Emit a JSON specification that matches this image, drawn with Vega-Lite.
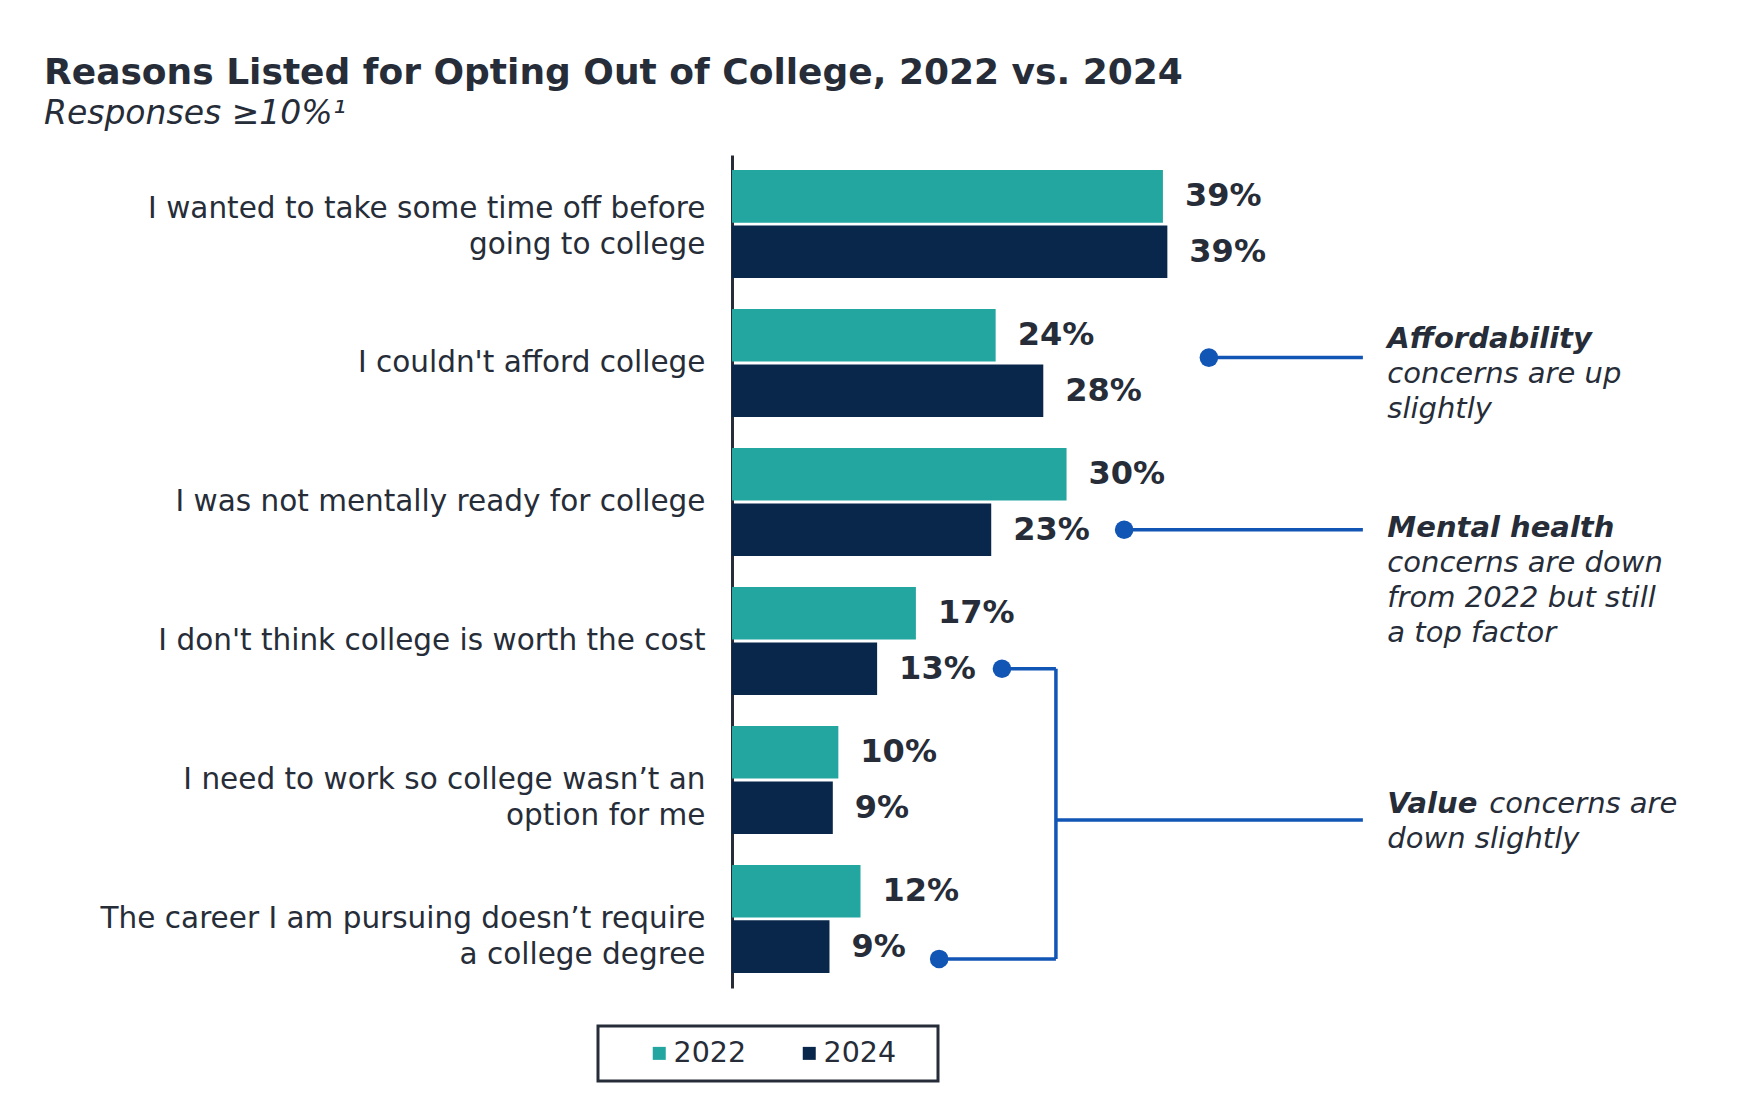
{
  "$schema": "https://vega.github.io/schema/vega-lite/v6.json",
  "width": 997,
  "height": 833,
  "autosize": {"type": "none"},
  "padding": {"left": 732, "top": 155, "right": 9, "bottom": 116},
  "background": "white",
  "title": {
    "text": "Reasons Listed for Opting Out of College, 2022 vs. 2024",
    "subtitle": "Responses ≥10%¹",
    "anchor": "start",
    "frame": "group",
    "dx": -688,
    "offset": 23,
    "subtitlePadding": 6,
    "font": "DejaVu Sans",
    "fontSize": 36,
    "fontWeight": "bold",
    "color": "#262d38",
    "subtitleFont": "DejaVu Sans",
    "subtitleFontSize": 33,
    "subtitleFontStyle": "italic",
    "subtitleColor": "#262d38"
  },
  "datasets": {
    "bars": [
      {"reason": "I wanted to take some time off before|going to college", "year": "2022", "pct": 0.389},
      {"reason": "I wanted to take some time off before|going to college", "year": "2024", "pct": 0.393},
      {"reason": "I couldn't afford college", "year": "2022", "pct": 0.238},
      {"reason": "I couldn't afford college", "year": "2024", "pct": 0.281},
      {"reason": "I was not mentally ready for college", "year": "2022", "pct": 0.302},
      {"reason": "I was not mentally ready for college", "year": "2024", "pct": 0.234},
      {"reason": "I don't think college is worth the cost", "year": "2022", "pct": 0.166},
      {"reason": "I don't think college is worth the cost", "year": "2024", "pct": 0.131},
      {"reason": "I need to work so college wasn’t an|option for me", "year": "2022", "pct": 0.096},
      {"reason": "I need to work so college wasn’t an|option for me", "year": "2024", "pct": 0.091},
      {"reason": "The career I am pursuing doesn’t require|a college degree", "year": "2022", "pct": 0.116},
      {"reason": "The career I am pursuing doesn’t require|a college degree", "year": "2024", "pct": 0.088}
    ],
    "links": [
      {"lvl": "a", "reason": "I couldn't afford college", "x0": 0.4305, "x1": 0.5695, "dot": true},
      {"lvl": "b", "reason": "I was not mentally ready for college", "x0": 0.354, "x1": 0.5695, "dot": true},
      {"lvl": "b", "reason": "I don't think college is worth the cost", "x0": 0.2437, "x1": 0.2924, "dot": true},
      {"lvl": "c", "reason": "The career I am pursuing doesn’t require|a college degree", "x0": 0.187, "x1": 0.2924, "dot": true},
      {"lvl": "c", "reason": "I need to work so college wasn’t an|option for me", "x0": 0.2924, "x1": 0.5695, "dot": false}
    ],
    "bracket": [
      {"x": 0.2924, "from": "I don't think college is worth the cost", "to": "The career I am pursuing doesn’t require|a college degree"}
    ],
    "notes": [
      {"lvl": "a", "reason": "I couldn't afford college", "x": 0.5916, "head": "Affordability", "rest": "concerns are up\nslightly"},
      {"lvl": "b", "reason": "I was not mentally ready for college", "x": 0.5916, "head": "Mental health", "rest": "concerns are down\nfrom 2022 but still\na top factor"},
      {"lvl": "c", "reason": "I need to work so college wasn’t an|option for me", "x": 0.5916, "head": "Value", "tail": "concerns are", "rest": "down slightly"}
    ]
  },
  "layer": [
    {
      "data": {"name": "bars"},
      "mark": {"type": "bar"},
      "encoding": {
        "y": {
          "field": "reason",
          "type": "nominal",
          "scale": {
            "type": "band",
            "domain": [
              "I wanted to take some time off before|going to college",
              "I couldn't afford college",
              "I was not mentally ready for college",
              "I don't think college is worth the cost",
              "I need to work so college wasn’t an|option for me",
              "The career I am pursuing doesn’t require|a college degree"
            ],
            "paddingInner": 0.223,
            "paddingOuter": 0.108
          },
          "axis": {
            "title": null,
            "domain": true,
            "domainColor": "#262d38",
            "domainWidth": 3,
            "ticks": false,
            "grid": false,
            "labelFont": "DejaVu Sans",
            "labelFontSize": 29.5,
            "labelColor": "#262d38",
            "labelPadding": 27,
            "labelLimit": 0,
            "labelLineHeight": 36,
            "labelExpr": "split(datum.label, '|')",
            "labelBaseline": {"condition": {"test": "indexof(datum.value, 'time off') >= 0", "value": "bottom"}, "value": "middle"}
          }
        },
        "yOffset": {"field": "year", "type": "nominal", "scale": {"domain": ["2022", "2024"], "paddingInner": 0.05}},
        "x": {"field": "pct", "type": "quantitative", "scale": {"domain": [0, 0.9], "nice": false, "zero": true}, "axis": null},
        "color": {
          "field": "year",
          "type": "nominal",
          "scale": {"domain": ["2022", "2024"], "range": ["#23a6a0", "#08274a"]},
          "legend": {
            "orient": "none",
            "legendX": -134,
            "legendY": 871,
            "direction": "horizontal",
            "title": "\u200b\u2003\u200b",
            "titleOrient": "left",
            "titleOpacity": 0,
            "titlePadding": 5,
            "titleFontSize": 29,
            "symbolType": "square",
            "symbolSize": 169,
            "symbolStrokeWidth": 0,
            "labelFont": "DejaVu Sans",
            "labelFontSize": 28.5,
            "labelColor": "#262d38",
            "labelOffset": 0,
            "columnPadding": 48,
            "labelExpr": "datum.label == '2024' ? '2024\u2003\u200b' : datum.label",
            "padding": 13,
            "strokeColor": "#262d38"
          }
        }
      }
    },
    {
      "data": {"name": "bars"},
      "mark": {"type": "text", "align": "left", "baseline": "middle", "dx": 22, "fontSize": 32, "fontWeight": "bold", "color": "#262d38"},
      "encoding": {
        "y": {"field": "reason", "type": "nominal"},
        "yOffset": {"field": "year", "type": "nominal"},
        "x": {"field": "pct", "type": "quantitative"},
        "text": {"field": "pct", "type": "quantitative", "format": ".0%"}
      }
    },
    {
      "data": {"name": "links"},
      "transform": [{"filter": "datum.lvl == 'a'"}],
      "encoding": {"y": {"field": "reason", "type": "nominal", "bandPosition": 0.45}},
      "layer": [
        {"mark": {"type": "rule", "color": "#1155b5", "strokeWidth": 3.5}, "encoding": {"x": {"field": "x0", "type": "quantitative"}, "x2": {"field": "x1"}}},
        {"transform": [{"filter": "datum.dot"}], "mark": {"type": "point", "shape": "circle", "filled": true, "opacity": 1, "size": 346, "color": "#1155b5"}, "encoding": {"x": {"field": "x0", "type": "quantitative"}}}
      ]
    },
    {
      "data": {"name": "links"},
      "transform": [{"filter": "datum.lvl == 'b'"}],
      "encoding": {"y": {"field": "reason", "type": "nominal", "bandPosition": 0.757}},
      "layer": [
        {"mark": {"type": "rule", "color": "#1155b5", "strokeWidth": 3.5}, "encoding": {"x": {"field": "x0", "type": "quantitative"}, "x2": {"field": "x1"}}},
        {"transform": [{"filter": "datum.dot"}], "mark": {"type": "point", "shape": "circle", "filled": true, "opacity": 1, "size": 346, "color": "#1155b5"}, "encoding": {"x": {"field": "x0", "type": "quantitative"}}}
      ]
    },
    {
      "data": {"name": "links"},
      "transform": [{"filter": "datum.lvl == 'c'"}],
      "encoding": {"y": {"field": "reason", "type": "nominal", "bandPosition": 0.87}},
      "layer": [
        {"mark": {"type": "rule", "color": "#1155b5", "strokeWidth": 3.5}, "encoding": {"x": {"field": "x0", "type": "quantitative"}, "x2": {"field": "x1"}}},
        {"transform": [{"filter": "datum.dot"}], "mark": {"type": "point", "shape": "circle", "filled": true, "opacity": 1, "size": 346, "color": "#1155b5"}, "encoding": {"x": {"field": "x0", "type": "quantitative"}}}
      ]
    },
    {
      "data": {"name": "bracket"},
      "mark": {"type": "rule", "color": "#1155b5", "strokeWidth": 3.5},
      "encoding": {
        "x": {"field": "x", "type": "quantitative"},
        "y": {"field": "from", "type": "nominal", "bandPosition": 0.757},
        "y2": {"field": "to", "bandPosition": 0.87}
      }
    },
    {
      "data": {"name": "notes"},
      "transform": [{"filter": "datum.lvl == 'a'"}],
      "encoding": {"y": {"field": "reason", "type": "nominal", "bandPosition": 0.45}, "x": {"field": "x", "type": "quantitative"}},
      "layer": [
        {"mark": {"type": "text", "align": "left", "baseline": "alphabetic", "fontSize": 29, "fontStyle": "italic", "fontWeight": "bold", "color": "#262d38", "dy": -10}, "encoding": {"text": {"field": "head"}}},
        {"mark": {"type": "text", "align": "left", "baseline": "alphabetic", "fontSize": 29, "fontStyle": "italic", "color": "#262d38", "dy": 25, "lineBreak": "\n", "lineHeight": 35}, "encoding": {"text": {"field": "rest"}}}
      ]
    },
    {
      "data": {"name": "notes"},
      "transform": [{"filter": "datum.lvl == 'b'"}],
      "encoding": {"y": {"field": "reason", "type": "nominal", "bandPosition": 0.757}, "x": {"field": "x", "type": "quantitative"}},
      "layer": [
        {"mark": {"type": "text", "align": "left", "baseline": "alphabetic", "fontSize": 29, "fontStyle": "italic", "fontWeight": "bold", "color": "#262d38", "dy": 7}, "encoding": {"text": {"field": "head"}}},
        {"mark": {"type": "text", "align": "left", "baseline": "alphabetic", "fontSize": 29, "fontStyle": "italic", "color": "#262d38", "dy": 42, "lineBreak": "\n", "lineHeight": 35}, "encoding": {"text": {"field": "rest"}}}
      ]
    },
    {
      "data": {"name": "notes"},
      "transform": [{"filter": "datum.lvl == 'c'"}],
      "encoding": {"y": {"field": "reason", "type": "nominal", "bandPosition": 0.87}, "x": {"field": "x", "type": "quantitative"}},
      "layer": [
        {"mark": {"type": "text", "align": "left", "baseline": "alphabetic", "fontSize": 29, "fontStyle": "italic", "fontWeight": "bold", "color": "#262d38", "dy": -7}, "encoding": {"text": {"field": "head"}}},
        {"mark": {"type": "text", "align": "left", "baseline": "alphabetic", "fontSize": 29, "fontStyle": "italic", "color": "#262d38", "dx": 102, "dy": -7}, "encoding": {"text": {"field": "tail"}}},
        {"mark": {"type": "text", "align": "left", "baseline": "alphabetic", "fontSize": 29, "fontStyle": "italic", "color": "#262d38", "dy": 28}, "encoding": {"text": {"field": "rest"}}}
      ]
    }
  ],
  "config": {
    "font": "DejaVu Sans",
    "view": {"stroke": null},
    "axis": {"grid": false},
    "legend": {"strokeWidth": 3}
  }
}
